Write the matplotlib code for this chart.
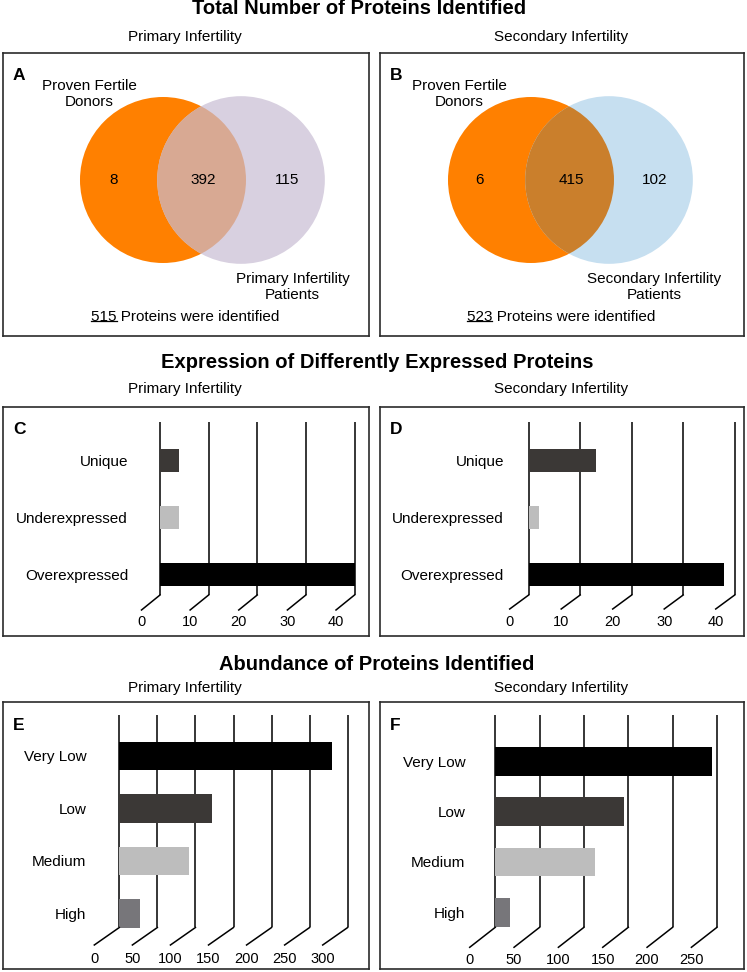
import matplotlib
matplotlib.use('Agg')
import matplotlib.pyplot as plt
from matplotlib.patches import Circle
from matplotlib.lines import Line2D

plt.rcParams['font.family'] = ['Liberation Sans', 'DejaVu Sans']

W, H = 747, 972

# data
groups = ['Primary Infertility', 'Secondary Infertility']
venn_primary = [8, 392, 115]
venn_secondary = [6, 415, 102]
venn_left_label = 'Proven Fertile\nDonors'
venn_right_labels = ['Primary Infertility\nPatients', 'Secondary Infertility\nPatients']
total_identified = [515, 523]

expr_cats = ['Overexpressed', 'Underexpressed', 'Unique']
expr_primary = [40, 4, 4]
expr_secondary = [38, 2, 13]
expr_colors = ['#000000', '#bdbdbd', '#3b3836']
expr_ticks = [0, 10, 20, 30, 40]

abund_cats = ['High', 'Medium', 'Low', 'Very Low']
abund_primary = [27, 92, 122, 280]
abund_secondary = [17, 112, 145, 244]
abund_colors = ['#77767a', '#bdbdbd', '#3b3836', '#000000']
abund_ticks_primary = [0, 50, 100, 150, 200, 250, 300]
abund_ticks_secondary = [0, 50, 100, 150, 200, 250]

fig = plt.figure(figsize=(W / 100, H / 100), dpi=100)


def px_axes(x0, y0, x1, y1):
    return fig.add_axes([x0 / W, 1 - y1 / H, (x1 - x0) / W, (y1 - y0) / H])


def frame(x0, y0, x1, y1, letter):
    ax = px_axes(x0, y0, x1, y1)
    ax.set_xticks([])
    ax.set_yticks([])
    ax.set_facecolor('none')
    for s in ax.spines.values():
        s.set_linewidth(1.2)
        s.set_color('#2b2b2b')
    ax.text(10 / (x1 - x0), 1 - 23 / (y1 - y0), letter, transform=ax.transAxes,
            fontsize=12.5, fontweight='bold', ha='left', va='center')
    return ax


def ftext(x, y, s, **kw):
    fig.text(x / W, 1 - y / H, s, ha='center', va='center', **kw)


# section titles and subtitles
ftext(359, 9, 'Total Number of Proteins Identified', fontsize=14.5, fontweight='bold')
ftext(377, 363, 'Expression of Differently Expressed Proteins', fontsize=14.5, fontweight='bold')
ftext(377, 665, 'Abundance of Proteins Identified', fontsize=14.5, fontweight='bold')
for y in [37, 389, 688]:
    ftext(185, y, groups[0], fontsize=11)
    ftext(561, y, groups[1], fontsize=11)

underlines = []


def venn(box, cx, cy, counts, right_label, right_color, mid_color, total, letter, xs):
    x0, y0, x1, y1 = box
    ax = frame(x0, y0, x1, y1, letter)
    r = 83.0
    ax.set_xlim(-(cx - x0) / r, (x1 - cx) / r)
    ax.set_ylim(-(y1 - cy) / r, (cy - y0) / r)
    d = 0.47
    left = Circle((-d, 0), 1, color='#ff8000', lw=0)
    right = Circle((d, 0), 1.01, color=right_color, lw=0)
    mid = Circle((d, 0), 1.01, color=mid_color, lw=0)
    ax.add_patch(left)
    ax.add_patch(right)
    ax.add_patch(mid)
    mid.set_clip_path(left)
    for x, c in zip(xs, counts):
        ax.text(x, 0, str(c), ha='center', va='center', fontsize=11)
    ax.text(xs[3], 1.04, venn_left_label, ha='center', va='center', fontsize=11,
            linespacing=1.15)
    ax.text(xs[4], -1.29, right_label, ha='center', va='center', fontsize=11,
            linespacing=1.15)
    t = ax.text(xs[5], -1.65, f'{total} Proteins were identified', ha='center',
                va='center', fontsize=11)
    underlines.append((ax, t, str(total)))


venn((3, 53, 369, 336), 202, 180, venn_primary, venn_right_labels[0], '#d8d0e0',
     '#d8a993', total_identified[0], 'A', [-1.07, 0.01, 1.02, -1.36, 1.09, -0.2])
venn((380, 53, 744, 336), 570, 180, venn_secondary, venn_right_labels[1], '#c6dff0',
     '#ca7f2c', total_identified[1], 'B', [-1.09, 0.02, 1.02, -1.33, 1.01, -0.11])


def bars(box, plot_px, cats, vals, colors, ticks, bar_h, ylim, slant, lab_gap, pad, letter):
    frame(*box, letter)
    ax = px_axes(*plot_px)
    pos = list(range(len(cats)))
    ax.set_xlim(ticks[0], ticks[-1])
    ax.set_ylim(*ylim)
    ax.vlines(ticks, ylim[0], ylim[1], color='k', lw=1.1, zorder=1, clip_on=False)
    ax.barh(pos, vals, height=bar_h, color=colors, zorder=2)
    ax.set_yticks(pos)
    ax.set_yticklabels(cats, fontsize=11)
    ax.tick_params(axis='y', length=0, pad=pad)
    ax.set_xticks([])
    for s in ax.spines.values():
        s.set_visible(False)
    ax.set_facecolor('none')
    wpx = plot_px[2] - plot_px[0]
    hpx = plot_px[3] - plot_px[1]
    ux = (ticks[-1] - ticks[0]) / wpx
    uy = (ylim[1] - ylim[0]) / hpx
    dx, dy = slant
    for t in ticks:
        ax.plot([t, t - dx * ux], [ylim[0], ylim[0] - dy * uy], color='k', lw=1.1,
                clip_on=False)
        ax.text(t - dx * ux, ylim[0] - (dy + lab_gap) * uy, str(t), ha='center',
                va='center', fontsize=10.5)


bars((3, 407, 369, 636), (160, 422, 354.5, 595), expr_cats, expr_primary, expr_colors,
     expr_ticks, 0.4, (-0.348, 2.661), (18.5, 15), 12, 23, 'C')
bars((380, 407, 744, 636), (528.7, 422, 734.7, 595), expr_cats, expr_secondary, expr_colors,
     expr_ticks, 0.4, (-0.348, 2.661), (19, 14), 12.5, 17.8, 'D')
bars((3, 702, 369, 969), (119.3, 715, 347.7, 927.5), abund_cats, abund_primary, abund_colors,
     abund_ticks_primary, 0.552, (-0.267, 3.781), (25, 17.5), 14, 23.8, 'E')
bars((380, 702, 744, 969), (495.3, 715, 717, 927.3), abund_cats, abund_secondary, abund_colors,
     abund_ticks_secondary, 0.57, (-0.298, 3.92), (25.6, 20), 12.7, 21.6, 'F')

# underline the totals
fig.canvas.draw()
renderer = fig.canvas.get_renderer()
for ax, t, num in underlines:
    bb = t.get_window_extent(renderer)
    tmp = ax.text(0, 0, num, fontsize=11)
    nw = tmp.get_window_extent(renderer).width
    tmp.remove()
    y = bb.y0 + 2.5
    fig.add_artist(Line2D([bb.x0 / W, (bb.x0 + nw) / W], [y / H, y / H], color='k', lw=0.9))

fig.savefig('out.png', dpi=100)
